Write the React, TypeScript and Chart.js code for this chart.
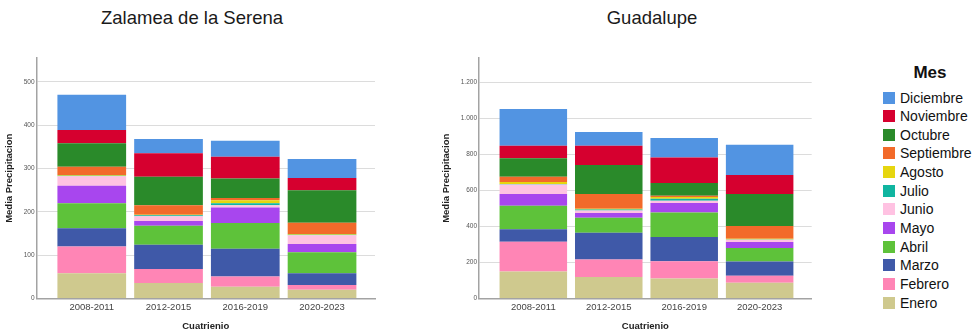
import React, { useEffect, useRef } from 'react';
import { Chart, registerables } from 'chart.js';
Chart.register(...registerables);

const cuatrienios = ['2008-2011', '2012-2015', '2016-2019', '2020-2023'];
const meses = ['Enero', 'Febrero', 'Marzo', 'Abril', 'Mayo', 'Junio', 'Julio', 'Agosto', 'Septiembre', 'Octubre', 'Noviembre', 'Diciembre'];
const colores = ['#CFC98E', '#FF85B5', '#3F59A8', '#5EC23A', '#A846EE', '#FFC2E2', '#10B5A0', '#E6D60F', '#F26A2A', '#2A8A2A', '#D6002F', '#5294E2'];

// Zalamea de la Serena – mean precipitation per month, one value per cuatrienio
const zalEnero = [58, 36, 27, 20];
const zalFebrero = [62, 32, 24, 11];
const zalMarzo = [42, 56, 64, 27];
const zalAbril = [58, 44, 59, 49];
const zalMayo = [40, 11, 36, 19];
const zalJunio = [22, 11, 5, 20];
const zalJulio = [1, 2, 5, 1];
const zalAgosto = [2, 1, 7, 2];
const zalSeptiembre = [19, 22, 5, 26];
const zalOctubre = [54, 66, 45, 75];
const zalNoviembre = [31, 54, 50, 28];
const zalDiciembre = [81, 33, 37, 44];

// Guadalupe
const guaEnero = [150, 119, 111, 87];
const guaFebrero = [165, 98, 96, 39];
const guaMarzo = [70, 148, 134, 80];
const guaAbril = [130, 83, 137, 74];
const guaMayo = [65, 26, 52, 34];
const guaJunio = [53, 14, 12, 12];
const guaJulio = [3, 6, 12, 2];
const guaAgosto = [10, 4, 9, 4];
const guaSeptiembre = [30, 82, 8, 70];
const guaOctubre = [102, 161, 70, 178];
const guaNoviembre = [70, 107, 141, 106];
const guaDiciembre = [204, 76, 109, 168];

const zalSeries = [zalEnero, zalFebrero, zalMarzo, zalAbril, zalMayo, zalJunio, zalJulio, zalAgosto, zalSeptiembre, zalOctubre, zalNoviembre, zalDiciembre];
const guaSeries = [guaEnero, guaFebrero, guaMarzo, guaAbril, guaMayo, guaJunio, guaJulio, guaAgosto, guaSeptiembre, guaOctubre, guaNoviembre, guaDiciembre];

const zalTicks = [0, 100, 200, 300, 400, 500];
const guaTicks = [0, 200, 400, 600, 800, 1000, 1200];

const FONT = "'Liberation Sans', Arial, Helvetica, sans-serif";

function fmt(v: number) {
  const s = String(Math.round(v));
  return s.replace(/\B(?=(\d{3})+(?!\d))/g, '.');
}

function makeConfig(series: number[][], yMax: number, yTicks: number[], yWidth: number, padRight: number): any {
  return {
    type: 'bar',
    data: {
      datasets: series.map((vals, i) => ({
        label: meses[i],
        data: vals.map((v, j) => ({ x: j, y: v })),
        backgroundColor: colores[i],
        borderWidth: 0,
        categoryPercentage: 1,
        barPercentage: 0.895,
      })),
    },
    options: {
      responsive: false,
      animation: false,
      maintainAspectRatio: false,
      layout: { padding: { top: 58, right: padRight, left: 0, bottom: 0 } },
      plugins: { legend: { display: false }, tooltip: { enabled: false }, title: { display: false } },
      scales: {
        x: {
          type: 'linear',
          stacked: true,
          offset: false,
          min: -0.72,
          max: 3.69,
          afterBuildTicks: (s: any) => { s.ticks = cuatrienios.map((_, i) => ({ value: i })); },
          afterFit: (s: any) => { s.height = 37.5; },
          grid: { display: false, drawTicks: false, offset: false },
          border: { display: true, color: '#a3a3a3', width: 1.5 },
          ticks: {
            padding: 3,
            maxRotation: 0,
            autoSkip: false,
            color: '#444',
            font: { family: FONT, size: 9.5 },
            callback: (v: any) => cuatrienios[v] ?? '',
          },
          title: {
            display: true,
            text: 'Cuatrienio',
            color: '#222',
            font: { family: FONT, size: 9.5, weight: 'bold' },
            padding: { top: 0, bottom: 3.6 },
          },
        },
        y: {
          stacked: true,
          min: 0,
          max: yMax,
          afterBuildTicks: (s: any) => { s.ticks = yTicks.map((v) => ({ value: v })); },
          afterFit: (s: any) => { s.width = yWidth; },
          grid: { color: '#dcdcdc', lineWidth: 1, drawTicks: false },
          border: { display: true, color: '#a3a3a3', width: 1.5 },
          ticks: {
            padding: 2,
            color: '#555',
            font: { family: FONT, size: 6.5 },
            callback: (v: any) => fmt(Number(v)),
          },
          title: {
            display: true,
            text: 'Media Precipitacion',
            color: '#222',
            font: { family: FONT, size: 9.5, weight: 'bold' },
            padding: { top: 3.5, bottom: 0 },
          },
        },
      },
    },
  };
}

function BarChart(props: { series: number[][]; yMax: number; yTicks: number[]; yWidth: number; padRight: number; width: number; left: number }) {
  const ref = useRef<HTMLCanvasElement | null>(null);
  useEffect(() => {
    if (!ref.current) return;
    const chart = new Chart(ref.current, makeConfig(props.series, props.yMax, props.yTicks, props.yWidth, props.padRight));
    return () => chart.destroy();
  }, []);
  return (
    <canvas
      ref={ref}
      width={props.width}
      height={336}
      style={{ position: 'absolute', left: props.left, top: 0, width: props.width, height: 336 }}
    />
  );
}

export default function App() {
  const legendItems = meses.map((m, i) => ({ m, c: colores[i] })).reverse();
  return (
    <div style={{ position: 'absolute', left: 0, top: 0, width: 979, height: 336, background: '#fff', fontFamily: FONT, overflow: 'hidden' }}>
      <div style={{ position: 'absolute', left: 42, top: 6, width: 300, textAlign: 'center', fontSize: 18.5, color: '#1a1a1a', lineHeight: '24px' }}>
        Zalamea de la Serena
      </div>
      <div style={{ position: 'absolute', left: 502, top: 6, width: 300, textAlign: 'center', fontSize: 18.5, color: '#1a1a1a', lineHeight: '24px' }}>
        Guadalupe
      </div>
      <BarChart series={zalSeries} yMax={555} yTicks={zalTicks} yWidth={36.5} padRight={10} width={385} left={0} />
      <BarChart series={guaSeries} yMax={1335} yTicks={guaTicks} yWidth={42} padRight={15.3} width={390} left={437} />
      <div style={{ position: 'absolute', left: 880, top: 62, width: 100, textAlign: 'center', fontSize: 17, fontWeight: 'bold', color: '#111', lineHeight: '22px' }}>
        Mes
      </div>
      {legendItems.map((it, i) => (
        <div
          key={it.m}
          style={{ position: 'absolute', left: 883, top: 88.2 + i * 18.64, height: 18.64, display: 'flex', alignItems: 'center', whiteSpace: 'nowrap' }}
        >
          <span style={{ display: 'inline-block', width: 12, height: 12, background: it.c, marginRight: 5 }} />
          <span style={{ fontSize: 14, color: '#111', lineHeight: '18px' }}>{it.m}</span>
        </div>
      ))}
    </div>
  );
}
